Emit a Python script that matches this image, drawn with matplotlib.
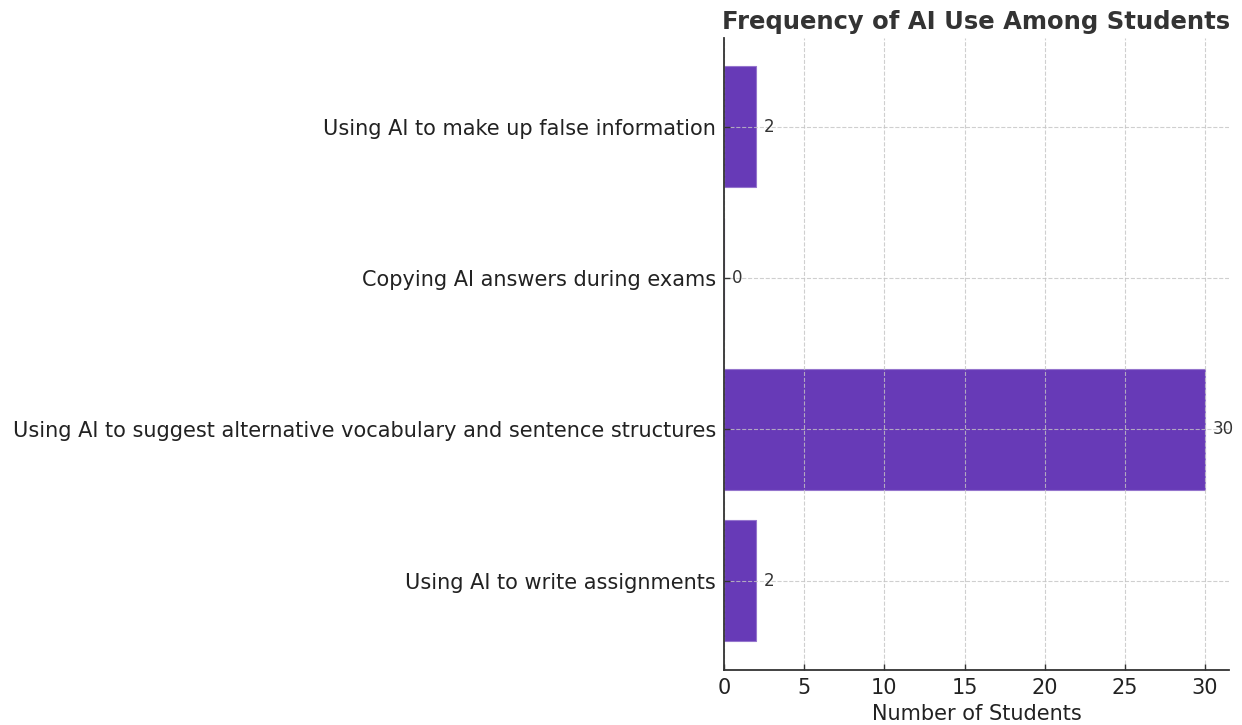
import matplotlib
matplotlib.use('Agg')
import matplotlib.pyplot as plt

categories = [
    "Using AI to write assignments",
    "Using AI to suggest alternative vocabulary and sentence structures",
    "Copying AI answers during exams",
    "Using AI to make up false information",
]
counts = [2, 30, 0, 2]
x_ticks = [0, 5, 10, 15, 20, 25, 30]

fig = plt.figure(figsize=(12.42, 7.25), dpi=100, facecolor='white')
ax = fig.add_axes([0.583, 0.076, 0.4065, 0.872])

ax.barh(categories, counts, height=0.8, color='#673ab7',
        edgecolor='#9575cd', linewidth=0.8)

for i, v in enumerate(counts):
    ax.text(v + 0.5, i, str(v), va='center', ha='left', fontsize=12, color='#333333')

ax.set_xlim(0, 31.5)
ax.set_xticks(x_ticks)
ax.set_xlabel("Number of Students", fontsize=15, color='#222222', labelpad=4)
ax.set_title("Frequency of AI Use Among Students", fontsize=17.5, fontweight='bold',
             color='#333333', pad=6)
ax.tick_params(axis='both', labelsize=15, colors='#333333', labelcolor='#222222',
               direction='in', length=4, width=1)
ax.tick_params(axis='x', pad=6)
ax.tick_params(axis='y', pad=6)

ax.grid(color='#c4c4c4', linestyle='--', linewidth=0.8, alpha=0.8)
ax.set_axisbelow('line')
for s in ['top', 'right']:
    ax.spines[s].set_visible(False)
for s in ['left', 'bottom']:
    ax.spines[s].set_color('#333333')
    ax.spines[s].set_linewidth(1.3)

fig.savefig('out.png', dpi=100, facecolor='white')
